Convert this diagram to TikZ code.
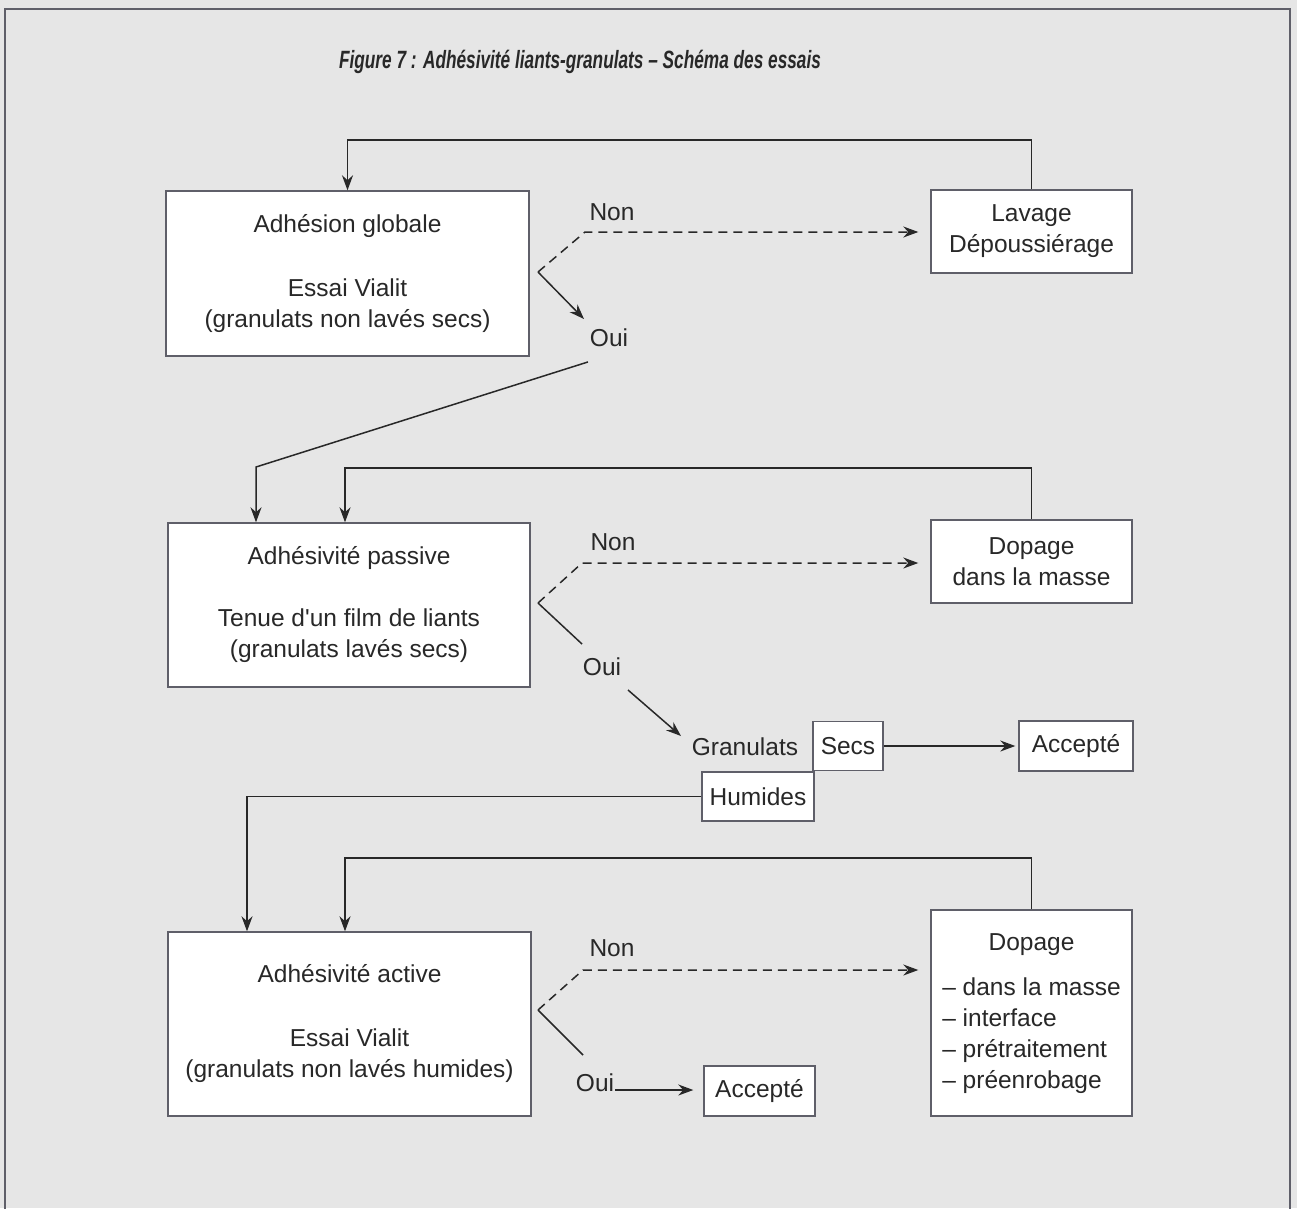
\documentclass[tikz,border=0pt]{standalone}
\usepackage{fontspec}
\setmainfont{Liberation Sans}
\newfontfamily\titlefont{Liberation Sans}[FakeStretch=0.69, Ligatures=TeX]
\usepackage{tikz}
\usetikzlibrary{arrows.meta}
\usepackage{xcolor}
\definecolor{paper}{RGB}{230,230,230}
\definecolor{ink}{RGB}{40,40,40}
\definecolor{frame}{RGB}{95,95,105}

\tikzset{
  testbox/.style={draw=frame, line width=1.4pt, fill=white, inner sep=0pt, align=center, font=\fontsize{24.5}{31}\selectfont, text=ink},
  lbl/.style={inner sep=0.75pt, font=\fontsize{24.5}{31}\selectfont, text=ink},
  link/.style={draw=ink, line width=1.5pt},
  tip/.style={-{Stealth[length=15pt,width=11pt]}},
  nonline/.style={dash pattern=on 9pt off 6pt},
}

\begin{document}
\begin{tikzpicture}[x=1pt,y=1pt,yscale=-1,xscale=1]
%Background and frame
\useasboundingbox (0,0) rectangle (1297,1208);
\fill [paper] (0,0) rectangle (1297,1208);
\draw [frame, line width=1.2pt] (5,1210) -- (5,9) -- (1290,9) -- (1290,1210);

% Title
\node (title) at (580,62) [lbl] {\titlefont\bfseries\itshape\fontsize{25}{30}\selectfont Figure 7 : Adhésivité liants-granulats – Schéma des essais};

%Boxes: tests
\node (glob) at (347.5,273.5) [testbox, minimum width=363, minimum height=165] {Adhésion globale\\[33pt]Essai Vialit\\(granulats non lavés secs)};
\node (pass) at (349,605) [testbox, minimum width=362, minimum height=164] {Adhésivité passive\\[31pt]Tenue d\textquotesingle un film de liants\\(granulats lavés secs)};
\node (act) at (349.5,1024) [testbox, minimum width=363, minimum height=184] {Adhésivité active\\[33pt]Essai Vialit\\(granulats non lavés humides)};

%Boxes: treatments
\node (lav) at (1031.5,231.5) [testbox, minimum width=201, minimum height=83] {Lavage\\Dépoussiérage};
\node (dopm) at (1031.5,561.5) [testbox, minimum width=201, minimum height=83] {Dopage\\dans la masse};
\node (dopall) at (1031.5,1013) [testbox, minimum width=201, minimum height=206] {\begin{tabular}{@{}l@{}}\multicolumn{1}{c}{Dopage}\\[14pt]-- dans la masse\\-- interface\\-- prétraitement\\-- préenrobage\end{tabular}};

%Boxes: granulats
\node (secs) at (848,746) [testbox, minimum width=70, minimum height=49] {Secs};
\node (hum) at (758,796.5) [testbox, minimum width=112, minimum height=49] {Humides};
\node (okgran) at (1076,746) [testbox, minimum width=114, minimum height=50] {Accepté};
\node (okact) at (759.5,1091) [testbox, minimum width=111, minimum height=50] {Accepté};

% Text Node
\node (non1) at (612,212) [lbl] {Non};
\node (oui1) at (609,338) [lbl] {Oui};
\node (non2) at (613,542) [lbl] {Non};
\node (oui2) at (602,667) [lbl] {Oui};
\node (gran) at (745,747) [lbl] {Granulats};
\node (non3) at (612,948) [lbl] {Non};
\node (oui3) at (595,1083) [lbl] {Oui};

%Branch points
\coordinate (s1) at (538,272);
\coordinate (s2) at (538,603);
\coordinate (s3) at (538,1010);
\coordinate (k1) at (256,467);

%Adhesion globale
\draw [link, nonline, tip, shorten >=12pt] (s1) -- (585,232) -- (lav.west |- 0,232);
\draw [link, tip] (s1) -- (584,319);
\draw [link, tip] (lav.north) |- (glob.north |- 0,140) -- (glob.north);
\draw [link, tip] (oui1.south) ++(-21,14) -- (k1) -- (k1 |- pass.north);

%Adhesivite passive
\draw [link, nonline, tip, shorten >=12pt] (s2) -- (582,563) -- (dopm.west |- 0,563);
\draw [link] (s2) -- (582,644);
\draw [link, tip] (dopm.north) |- (345,468) -- (pass.north -| 345,0);
\draw [link, tip] (628,690) -- (681,736);
\draw [link, tip, shorten >=3pt] (secs.east) -- (okgran.west);
\draw [link, tip] (hum.west) -- (247,796.5) -- (act.north -| 247,0);

%Adhesivite active
\draw [link, nonline, tip, shorten >=12pt] (s3) -- (583,970) -- (dopall.west |- 0,970);
\draw [link] (s3) -- (583,1055);
\draw [link, tip] (dopall.north) |- (345,858) -- (act.north -| 345,0);
\draw [link, tip, shorten >=10pt] (oui3.east |- 0,1090) -- (okact.west |- 0,1090);
\end{tikzpicture}
\end{document}
